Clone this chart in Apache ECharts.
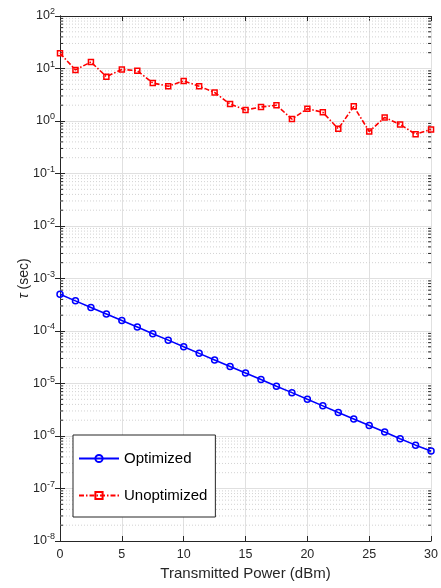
<!DOCTYPE html>
<html>
<head>
<meta charset="utf-8">
<script src="https://cdn.jsdelivr.net/npm/echarts@6/dist/echarts.min.js"></script>
<style>
html,body{margin:0;padding:0;background:#fff;}
#c{width:441px;height:588px;}
</style>
</head>
<body>
<div id="c"></div>
<script>
const powerDbm = [0,1.25,2.5,3.75,5,6.25,7.5,8.75,10,11.25,12.5,13.75,15,16.25,17.5,18.75,20,21.25,22.5,23.75,25,26.25,27.5,28.75,30];
const optimized = [5.0e-4,3.75e-4,2.81e-4,2.11e-4,1.58e-4,1.19e-4,8.9e-5,6.7e-5,5.0e-5,3.75e-5,2.81e-5,2.11e-5,1.58e-5,1.19e-5,8.9e-6,6.7e-6,5.0e-6,3.75e-6,2.81e-6,2.11e-6,1.58e-6,1.19e-6,8.9e-7,6.7e-7,5.2e-7];
const unoptimized = [19.5,9.4,13.3,7.0,9.6,9.1,5.3,4.6,5.8,4.6,3.5,2.1,1.62,1.85,2.0,1.09,1.72,1.46,0.71,1.9,0.63,1.17,0.86,0.56,0.69];
const xTicks = [0,5,10,15,20,25,30];
const yMinExp = -8, yMaxExp = 2;

const FONT = 'Liberation Sans';
const AX = '#262626';

const minorVals = [];
for (let e = yMinExp; e < yMaxExp; e++) {
  for (let k = 2; k <= 9; k++) minorVals.push([0, k * Math.pow(10, e)]);
}

const chart = echarts.init(document.getElementById('c'), null, {renderer: 'canvas'});
chart.setOption({
  animation: false,
  backgroundColor: '#fff',
  grid: {left: 60, right: 8, top: 16, bottom: 47},
  legend: {
    data: ['Optimized', 'Unoptimized'],
    orient: 'vertical',
    left: 73, top: 435,
    padding: [16, 8, 14, 5],
    itemGap: 22,
    itemWidth: 40,
    itemHeight: 9,
    backgroundColor: '#fff',
    borderColor: AX,
    borderWidth: 1,
    borderRadius: 0,
    textStyle: {fontFamily: FONT, fontSize: 15, color: '#000'}
  },
  xAxis: [{
    type: 'value', min: xTicks[0], max: xTicks[xTicks.length - 1], interval: 5,
    name: 'Transmitted Power (dBm)', nameLocation: 'middle', nameGap: 23,
    nameTextStyle: {fontFamily: FONT, fontSize: 15, color: AX},
    axisLine: {show: true, lineStyle: {color: AX, width: 1}},
    axisTick: {show: true, inside: true, length: 5, lineStyle: {color: AX}},
    axisLabel: {fontFamily: FONT, fontSize: 12.5, color: AX, margin: 7},
    splitLine: {show: true, lineStyle: {color: '#e0e0e0', width: 1}}
  }, {
    type: 'value', min: xTicks[0], max: xTicks[xTicks.length - 1], interval: 5, position: 'top',
    axisLine: {show: true, lineStyle: {color: AX, width: 1}},
    axisTick: {show: true, inside: true, length: 5, lineStyle: {color: AX}},
    axisLabel: {show: false}, splitLine: {show: false}
  }],
  yAxis: [{
    type: 'log', logBase: 10, min: Math.pow(10, yMinExp), max: Math.pow(10, yMaxExp), interval: 1,
    name: '{i|τ} (sec)', nameLocation: 'middle', nameGap: 29, nameMoveOverlap: false,
    nameTextStyle: {fontFamily: FONT, fontSize: 14, color: AX,
      rich: {i: {fontFamily: FONT, fontSize: 14, fontStyle: 'italic', color: AX}}},
    axisLine: {show: true, lineStyle: {color: AX, width: 1}},
    axisTick: {show: true, inside: true, length: 5, lineStyle: {color: AX}},
    axisLabel: {
      margin: 5, color: AX,
      formatter: function (v) { return '{b|10}{s|' + Math.round(Math.log10(v)) + '}'; },
      rich: {
        b: {fontFamily: FONT, fontSize: 12.5, color: AX},
        s: {fontFamily: FONT, fontSize: 9, color: AX, verticalAlign: 'top', padding: [0, 0, 8, 0]}
      }
    },
    splitLine: {show: true, lineStyle: {color: '#e0e0e0', width: 1}}
  }, {
    type: 'log', logBase: 10, min: Math.pow(10, yMinExp), max: Math.pow(10, yMaxExp), interval: 1, position: 'right',
    axisLine: {show: true, lineStyle: {color: AX, width: 1}},
    axisTick: {show: true, inside: true, length: 5, lineStyle: {color: AX}},
    axisLabel: {show: false}, splitLine: {show: false}
  }],
  series: [{
    type: 'custom', name: 'minor', silent: true, z: 1,
    xAxisIndex: 0, yAxisIndex: 0,
    encode: {x: 0, y: 1},
    data: minorVals,
    renderItem: function (params, api) {
      const v = api.value(1);
      const a = api.coord([0, v]);
      const b = api.coord([30, v]);
      return {type: 'group', children: [
        {type: 'line', shape: {x1: a[0], y1: a[1], x2: b[0], y2: b[1]},
         style: {stroke: '#d2d2d2', lineWidth: 1, lineDash: [1, 2]}},
        {type: 'line', shape: {x1: a[0], y1: a[1], x2: a[0] + 3, y2: a[1]},
         style: {stroke: AX, lineWidth: 1}},
        {type: 'line', shape: {x1: b[0] - 3, y1: b[1], x2: b[0], y2: b[1]},
         style: {stroke: AX, lineWidth: 1}}
      ]};
    }
  }, {
    type: 'line', name: 'Optimized', z: 3,
    data: powerDbm.map((x, i) => [x, optimized[i]]),
    symbol: 'circle', symbolSize: 6,
    lineStyle: {color: '#0000ff', width: 1.6},
    itemStyle: {color: 'rgba(0,0,0,0)', borderColor: '#0000ff', borderWidth: 1.5}
  }, {
    type: 'line', name: 'Unoptimized', z: 4,
    data: powerDbm.map((x, i) => [x, unoptimized[i]]),
    symbol: 'rect', symbolSize: 5,
    lineStyle: {color: '#ff0000', width: 1.6, type: [5, 2, 1.5, 2]},
    itemStyle: {color: 'rgba(0,0,0,0)', borderColor: '#ff0000', borderWidth: 1.5}
  }]
});
</script>
</body>
</html>
